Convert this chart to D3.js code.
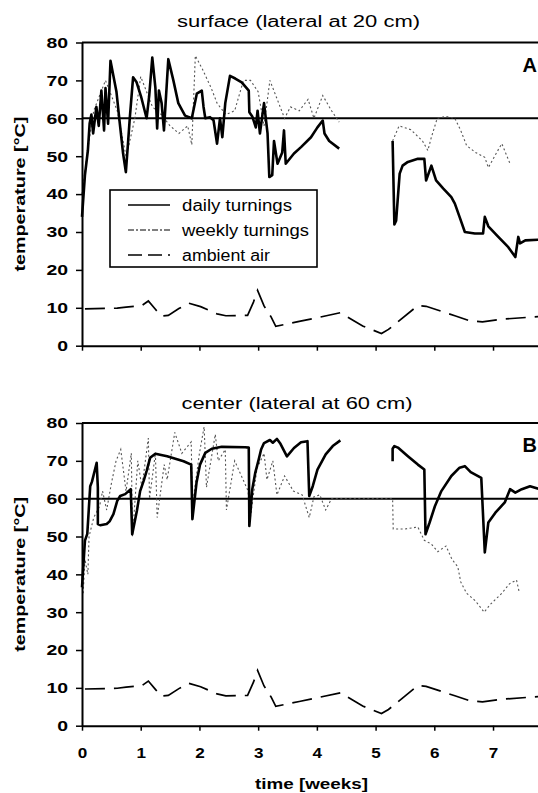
<!DOCTYPE html>
<html>
<head>
<meta charset="utf-8">
<script src="https://cdn.jsdelivr.net/npm/d3@7"></script>
<style>
body { margin: 0; background: #fff; }
svg { display: block; font-family: "Liberation Sans", Arial, sans-serif; }
</style>
</head>
<body>
<svg id="chart"></svg>
<script>
// [week, temperature °C]; null breaks the line
var surfaceDaily = [
    [0.00, 34], [0.05, 45], [0.10, 51.5], [0.13, 58.6], [0.16, 61], [0.19, 56], [0.245, 63], [0.285, 58],
    [0.33, 67.3], [0.376, 56.8], [0.40, 68], [0.444, 58.6], [0.485, 75.2], [0.587, 67], [0.644, 58.6],
    [0.70, 50.7], [0.747, 45.8], [0.786, 54], [0.815, 60.3], [0.87, 70.8], [0.93, 69.5], [1.01, 65.5],
    [1.10, 60], [1.145, 66], [1.197, 76], [1.25, 68], [1.28, 57.3], [1.31, 67.3], [1.356, 64], [1.396, 56.8],
    [1.424, 64], [1.47, 75.6], [1.556, 70], [1.64, 64], [1.755, 60.7], [1.87, 60], [1.955, 66.5], [2.04, 67.3],
    [2.07, 63], [2.10, 60], [2.18, 60.3], [2.24, 59.5], [2.30, 53.3], [2.35, 60], [2.39, 55], [2.44, 64],
    [2.52, 71.2], [2.61, 70.5], [2.72, 69.5], [2.84, 67.3], [2.85, 61.6], [2.90, 60.5], [2.96, 57.6],
    [2.99, 62], [3.03, 56], [3.10, 64], [3.16, 56], [3.19, 44.5], [3.24, 45], [3.27, 54], [3.33, 48],
    [3.41, 51], [3.44, 56.8], [3.47, 48], [3.61, 50.7], [3.73, 52.4], [3.90, 55], [4.01, 57.6], [4.10, 59.4],
    [4.13, 56], [4.21, 54], [4.38, 52], null,
    [5.29, 54], [5.32, 32], [5.35, 33], [5.41, 45.4], [5.46, 47.5], [5.55, 48.5], [5.72, 49.3], [5.83, 49.3],
    [5.86, 43.6], [5.95, 47.5], [6.03, 43.6], [6.15, 41.5], [6.29, 39.2], [6.35, 37.5], [6.43, 34], [6.52, 30],
    [6.69, 29.6], [6.83, 29.6], [6.86, 34], [6.92, 31.5], [7.09, 28.7], [7.26, 26], [7.38, 23.4], [7.43, 28.7],
    [7.46, 27], [7.55, 27.8], [7.8, 28]
]

var surfaceWeekly = [
    [0, 40], [0.1, 52], [0.2, 62], [0.3, 66], [0.4, 70], [0.5, 66], [0.6, 62], [0.75, 50], [0.8, 53],
    [0.9, 60], [1.0, 71], [1.1, 67], [1.2, 63], [1.35, 61], [1.5, 58], [1.65, 56], [1.8, 58], [1.87, 53],
    [1.93, 76.5], [2.05, 73], [2.2, 68], [2.3, 64], [2.45, 61], [2.6, 62], [2.75, 70], [2.87, 70], [3.0, 67],
    [3.1, 58], [3.2, 70], [3.3, 66], [3.45, 60], [3.55, 63], [3.7, 62], [3.85, 65], [3.95, 60], [4.1, 66],
    [4.25, 62], [4.38, 59], null,
    [5.29, 54], [5.4, 58], [5.6, 57], [5.8, 54], [5.89, 51.5], [5.95, 55], [6.05, 60], [6.2, 60.5],
    [6.35, 60], [6.45, 56.8], [6.55, 52.8], [6.7, 51], [6.86, 49.7], [6.92, 47], [7.1, 52], [7.15, 53.3],
    [7.29, 48]
]

var centerDaily = [
    [0.00, 36.6], [0.05, 48.9], [0.09, 50.7], [0.14, 63.3], [0.17, 64.5], [0.25, 69.5], [0.27, 62.9],
    [0.27, 53.3], [0.31, 53], [0.42, 53.3], [0.47, 54], [0.535, 55.9], [0.60, 59.4], [0.65, 60.7],
    [0.735, 61.2], [0.83, 62.5], [0.855, 50.6], [0.935, 56.8], [0.99, 62], [1.05, 64.7], [1.10, 67.3],
    [1.16, 70.8], [1.25, 71.9], [1.45, 71.2], [1.73, 69.9], [1.86, 69], [1.88, 54.6], [1.95, 64.2],
    [2.01, 69], [2.10, 72.1], [2.21, 73.2], [2.38, 73.7], [2.78, 73.6], [2.84, 73.5], [2.85, 52.8],
    [2.90, 62.5], [2.95, 66.8], [3.01, 70.4], [3.05, 73], [3.1, 74.7], [3.2, 75.5], [3.25, 74.8],
    [3.32, 75.8], [3.38, 74.5], [3.49, 71.2], [3.61, 73.4], [3.73, 74.9], [3.84, 75.2], [3.87, 60.7],
    [3.93, 63.3], [4.01, 67.7], [4.15, 71.7], [4.27, 73.9], [4.4, 75.4], null,
    [5.29, 69.9], [5.29, 73.2], [5.32, 73.9], [5.38, 73.5], [5.55, 71.2], [5.72, 69], [5.83, 67.7],
    [5.85, 50.6], [5.92, 53.7], [6.01, 58], [6.12, 62], [6.29, 66], [6.43, 68.2], [6.52, 68.6], [6.62, 67],
    [6.80, 65.5], [6.86, 45.8], [6.92, 53.7], [7.04, 56.3], [7.20, 59], [7.29, 62.5], [7.38, 61.6],
    [7.49, 62.5], [7.63, 63.3], [7.8, 62.5]
]

var centerWeekly = [
    [0.02, 35], [0.05, 44], [0.1, 40], [0.12, 50], [0.2, 55], [0.3, 58], [0.35, 62], [0.42, 57], [0.5, 64],
    [0.58, 70], [0.66, 73], [0.75, 62], [0.84, 72], [0.86, 50], [0.95, 70], [1.02, 63], [1.13, 76], [1.15, 60],
    [1.25, 72], [1.28, 55], [1.4, 69], [1.45, 65], [1.58, 77.5], [1.7, 72], [1.86, 75], [1.88, 58], [2.0, 72],
    [2.08, 79], [2.12, 63], [2.27, 77], [2.32, 70], [2.44, 73], [2.46, 57], [2.6, 70], [2.83, 62], [2.85, 53],
    [2.98, 68], [3.1, 72], [3.15, 65], [3.25, 70], [3.32, 61], [3.45, 66], [3.6, 62], [3.75, 61], [3.87, 55],
    [3.95, 60.5], [4.05, 61], [4.15, 57], [4.25, 60], [4.4, 60], [4.7, 60], [5.0, 60], [5.28, 60],
    [5.29, 60], [5.3, 52], [5.5, 52], [5.72, 52.5], [5.83, 49], [5.95, 48], [6.06, 46], [6.2, 47.5],
    [6.3, 44], [6.4, 42], [6.45, 38], [6.55, 35], [6.7, 33], [6.85, 30], [6.95, 32], [7.15, 35],
    [7.28, 37.5], [7.4, 38.5], [7.45, 35]
]

var ambientAir = [
    [0.05, 9.7], [0.6, 9.9], [0.75, 10.2], [1.02, 10.6], [1.13, 11.8], [1.25, 9.6], [1.35, 7.8], [1.47, 8.0],
    [1.65, 9.8], [1.82, 11.2], [2.02, 10.3], [2.3, 8.4], [2.45, 7.9], [2.82, 8.0], [2.92, 11.5], [2.99, 14.6],
    [3.1, 10.5], [3.22, 7.6], [3.3, 5.1], [3.7, 6.4], [3.98, 7.3], [4.4, 8.7], [4.78, 5.2], [5.1, 3.2],
    [5.22, 4.3], [5.72, 10.6], [5.86, 10.4], [6.35, 7.9], [6.6, 6.6], [6.82, 6.3], [7.15, 7.0], [7.7, 7.6],
    [7.8, 7.7]
]

var yTicks = [0, 10, 20, 30, 40, 50, 60, 70, 80]
var xTicks = [0, 1, 2, 3, 4, 5, 6, 7]
var legendLabels = ["daily turnings", "weekly turnings", "ambient air"]

var screen = { width: 538, height: 793 }

var svg = d3.select("#chart")
    .attr("width", screen.width)
    .attr("height", screen.height)

var xScale = d3.scaleLinear()
    .domain([0, 7.8])
    .range([82, 540])

var panels = [
    { title: "surface (lateral at 20 cm)", letter: "A", daily: surfaceDaily, weekly: surfaceWeekly,
      top: 42.5, bottom: 345.7, titleX: 298.5, titleY: 27, titleLen: 243, letterY: 72, labels: false },
    { title: "center (lateral at 60 cm)", letter: "B", daily: centerDaily, weekly: centerWeekly,
      top: 423, bottom: 725.7, titleX: 297, titleY: 409, titleLen: 231, letterY: 452, labels: true }
]

var drawPanel = function (panel, index) {
    var yScale = d3.scaleLinear()
        .domain([0, 80])
        .range([panel.bottom, panel.top])

    var g = svg.append("g").attr("class", "panel")

    var line = d3.line()
        .defined(function (d) { return d !== null })
        .x(function (d) { return xScale(d[0]) })
        .y(function (d) { return yScale(d[1]) })

    // reference line at 60 and frame top
    g.append("line")
        .attr("x1", xScale(0)).attr("x2", xScale(7.8))
        .attr("y1", yScale(60)).attr("y2", yScale(60))
        .attr("stroke", "#000").attr("stroke-width", 2)
    g.append("line")
        .attr("x1", xScale(0)).attr("x2", xScale(7.8))
        .attr("y1", yScale(80)).attr("y2", yScale(80))
        .attr("stroke", "#000").attr("stroke-width", 2)

    g.append("path")
        .datum(ambientAir)
        .attr("d", line)
        .attr("fill", "none")
        .attr("stroke", "#000")
        .attr("stroke-width", 1.7)
        .attr("stroke-dasharray", "20,9")

    g.append("path")
        .datum(panel.weekly)
        .attr("d", line)
        .attr("fill", "none")
        .attr("stroke", "#555")
        .attr("stroke-width", 1.1)
        .attr("stroke-dasharray", "2,2.5")

    g.append("path")
        .datum(panel.daily)
        .attr("d", line)
        .attr("fill", "none")
        .attr("stroke", "#000")
        .attr("stroke-width", 2.6)
        .attr("stroke-linejoin", "round")

    var yAxis = d3.axisLeft(yScale)
        .tickValues(yTicks)
        .tickSize(6)
        .tickSizeOuter(0)
        .tickPadding(8)

    var yg = g.append("g")
        .attr("transform", "translate(" + xScale(0) + ",0)")
        .call(yAxis)
    yg.select(".domain").attr("stroke-width", 2)
    yg.selectAll(".tick line").attr("stroke-width", 1.5)
    yg.selectAll(".tick text")
        .attr("font-size", 15)
        .attr("font-weight", "bold")
        .attr("font-family", "Liberation Sans, Arial, sans-serif")
        .attr("fill", "#000")
        .attr("textLength", function (d) { return String(d).length * 10.8 })
        .attr("lengthAdjust", "spacingAndGlyphs")

    var xAxis = d3.axisBottom(xScale)
        .tickValues(xTicks)
        .tickSize(5)
        .tickSizeOuter(0)
        .tickPadding(17)
    if (!panel.labels) {
        xAxis.tickFormat(function () { return "" })
    }
    var xg = g.append("g")
        .attr("transform", "translate(0," + panel.bottom + ")")
        .call(xAxis)
    xg.select(".domain").attr("stroke-width", 2)
    xg.selectAll(".tick line").attr("stroke-width", 1.5)
    xg.selectAll(".tick text")
        .attr("font-size", 15)
        .attr("font-weight", "bold")
        .attr("font-family", "Liberation Sans, Arial, sans-serif")
        .attr("fill", "#000")
        .attr("textLength", 9.5)
        .attr("lengthAdjust", "spacingAndGlyphs")

    // title, letter and y label
    g.append("text")
        .text(panel.title)
        .attr("x", panel.titleX)
        .attr("y", panel.titleY)
        .attr("text-anchor", "middle")
        .attr("font-size", 16)
        .attr("textLength", panel.titleLen)
        .attr("lengthAdjust", "spacingAndGlyphs")

    g.append("text")
        .text(panel.letter)
        .attr("x", 537)
        .attr("y", panel.letterY)
        .attr("text-anchor", "end")
        .attr("font-size", 20)
        .attr("font-weight", "bold")

    g.append("text")
        .text("temperature [°C]")
        .attr("transform", "translate(25," + ((panel.top + panel.bottom) / 2) + ") rotate(-90)")
        .attr("text-anchor", "middle")
        .attr("font-size", 15)
        .attr("font-weight", "bold")
        .attr("textLength", 155)
        .attr("lengthAdjust", "spacingAndGlyphs")
}

panels.forEach(drawPanel)

// x label under bottom panel
svg.append("text")
    .text("time [weeks]")
    .attr("x", 311.5)
    .attr("y", 789)
    .attr("text-anchor", "middle")
    .attr("font-size", 15)
    .attr("font-weight", "bold")
    .attr("textLength", 113)
    .attr("lengthAdjust", "spacingAndGlyphs")

// legend box in panel A
var legend = svg.append("g").attr("transform", "translate(110,190)")
legend.append("rect")
    .attr("width", 207)
    .attr("height", 77)
    .attr("fill", "#fff")
    .attr("stroke", "#000")
    .attr("stroke-width", 1.6)

var legendStyles = [
    { dash: null, width: 1.3 },
    { dash: "6,2,2,2", width: 1.1 },
    { dash: "14,6", width: 1.7 }
]
var legendLens = [110, 127, 88]

legendLabels.forEach(function (label, i) {
    var y = 15 + i * 25
    legend.append("line")
        .attr("x1", 18).attr("x2", 60)
        .attr("y1", y).attr("y2", y)
        .attr("stroke", "#000")
        .attr("stroke-width", legendStyles[i].width)
        .attr("stroke-dasharray", legendStyles[i].dash)
    legend.append("text")
        .text(label)
        .attr("x", 72)
        .attr("y", y + 5.5)
        .attr("font-size", 16)
        .attr("textLength", legendLens[i])
        .attr("lengthAdjust", "spacingAndGlyphs")
})
</script>
</body>
</html>
